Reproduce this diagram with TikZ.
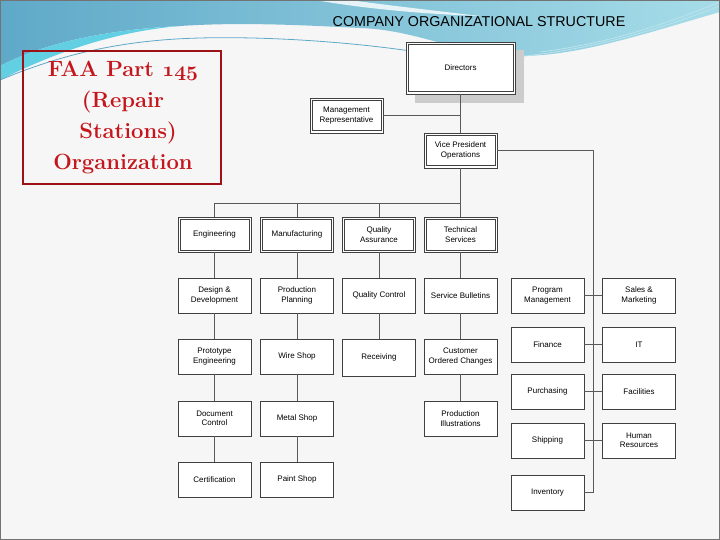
\documentclass[tikz,border=0pt]{standalone}
\usepackage{fontspec}
\newfontfamily\chartfont{Liberation Sans}
\definecolor{wavetop}{HTML}{5FA9C8}
\definecolor{waveright}{HTML}{A6DCE8}
\definecolor{wavecyan}{HTML}{62D0E2}
\definecolor{faared}{HTML}{C4161C}
\definecolor{slidebg}{HTML}{F6F6F6}
\newcommand{\oldnums}[1]{{\fontencoding{OML}\fontfamily{cmm}\fontseries{b}\fontshape{it}\selectfont #1}}

\begin{document}
\begin{tikzpicture}[x=1pt,y=-1pt,
    dept/.style={draw=black!75,line width=0.7pt,fill=white,
        minimum width=73pt,minimum height=35pt,inner sep=1pt,align=center,
        font=\chartfont\fontsize{8}{9.5}\selectfont,
        path picture={\draw[black!75,line width=0.6pt]
            ([shift={(2.2pt,-2.2pt)}]path picture bounding box.north west) rectangle
            ([shift={(-2.2pt,2.2pt)}]path picture bounding box.south east);}},
    unit/.style={draw=black!75,line width=0.7pt,fill=white,
        minimum width=73pt,minimum height=35pt,inner sep=1pt,align=center,
        font=\chartfont\fontsize{8}{9.5}\selectfont},
    link/.style={draw=black!65,line width=0.9pt}]
    \useasboundingbox (0,0) rectangle (720,540);
    % slide background
    \fill[slidebg] (0,0) rectangle (720,540);
    \shade[left color=wavetop,right color=waveright] (0,0) -- (720,0) -- (720,12)
        .. controls (650,32) and (580,56) .. (520,56)
        .. controls (460,56) and (420,30) .. (360,28)
        .. controls (300,25) and (240,22) .. (180,26)
        .. controls (100,30) and (40,45) .. (0,66) -- cycle;
    \fill[wavecyan] (0,66) .. controls (40,45) and (100,30) .. (180,26)
        .. controls (110,32) and (50,55) .. (0,80) -- cycle;
    \fill[white,opacity=0.8] (315,0) .. controls (360,8) and (420,14) .. (480,16)
        .. controls (420,9) and (370,3) .. (350,0) -- cycle;
    \draw[wavetop,line width=0.8pt] (0,80) .. controls (60,55) and (120,40) .. (200,38)
        .. controls (280,36) and (370,44) .. (430,54);
    \draw[waveright!80!white,line width=0.8pt] (505,58) .. controls (600,50) and (670,25) .. (720,6);
    \draw[waveright!70!white,line width=0.6pt] (540,52) .. controls (620,42) and (680,18) .. (720,2);
    \draw[black!55,line width=1pt] (0.5,0.5) rectangle (719.5,539.5);

    % title box
    \draw[faared!80!black,line width=1.2pt] (23,51) rectangle (221,184);
    \node[text=faared,font=\bfseries\fontsize{22}{31}\selectfont,align=center] (faa) at (123,118)
        {FAA\hspace{8pt}Part \oldnums{145}\\(Repair\\\hspace*{10pt}Stations)\\Organization};
    \node[font=\chartfont\fontsize{14.3}{16}\selectfont] (title) at (479,22) {COMPANY ORGANIZATIONAL STRUCTURE};

    % top of the chart
    \fill[black!20] (415,50) rectangle (524,103);
    \node[dept,minimum width=109pt,minimum height=52pt] (dir) at (460.5,68) {Directors};
    \node[dept] (mr) at (346.5,115.5) {Management\\Representative};
    \node[dept] (vp) at (460.5,150.5) {Vice President\\Operations};
    \coordinate (bus) at (460.5,203);
    \coordinate (spine) at (593,150.5);

    % departments
    \node[dept] (eng) at (214.5,234.5) {Engineering};
    \node[dept] (mfg) at (297,234.5) {Manufacturing};
    \node[dept] (qa) at (379,234.5) {Quality\\Assurance};
    \node[dept] (ts) at (460.5,234.5) {Technical\\Services};

    \node[unit] (dd) at (214.5,295.5) {Design \&\\Development};
    \node[unit] (pp) at (297,295.5) {Production\\Planning};
    \node[unit] (qc) at (379,295.5) {Quality Control};
    \node[unit] (sb) at (460.5,295.5) {Service Bulletins};

    \node[unit] (pe) at (214.5,356.5) {Prototype\\Engineering};
    \node[unit] (ws) at (297,356.5) {Wire Shop};
    \node[unit,minimum height=37pt] (rc) at (379,357.5) {Receiving};
    \node[unit] (coc) at (460.5,356.5) {Customer\\Ordered Changes};

    \node[unit] (dc) at (214.5,418.5) {Document\\Control};
    \node[unit] (ms) at (297,418.5) {Metal Shop};
    \node[unit] (pi) at (460.5,418.5) {Production\\Illustrations};

    \node[unit] (cert) at (214.5,479.5) {Certification};
    \node[unit] (ps) at (297,479.5) {Paint Shop};

    % support units
    \node[unit] (pm) at (547.5,295.5) {Program\\Management};
    \node[unit] (fin) at (547.5,344.5) {Finance};
    \node[unit] (pur) at (547.5,391.5) {Purchasing};
    \node[unit] (shp) at (547.5,440.5) {Shipping};
    \node[unit] (inv) at (547.5,492.5) {Inventory};
    \node[unit] (sm) at (639,295.5) {Sales \&\\Marketing};
    \node[unit] (it) at (639,344.5) {IT};
    \node[unit] (fac) at (639,391.5) {Facilities};
    \node[unit] (hr) at (639,440.5) {Human\\Resources};

    % connectors
    \draw[link] (dir) -- (vp);
    \draw[link] (mr.east) -- (mr.east -| dir.south);
    \draw[link] (vp) -- (ts);
    \draw[link] (eng.north) |- (bus);
    \draw[link] (mfg.north) -- (mfg.north |- bus);
    \draw[link] (qa.north) -- (qa.north |- bus);
    \draw[link] (vp.east) -- (spine) |- (inv.east);

    \draw[link] (eng) -- (dd);
    \draw[link] (dd) -- (pe);
    \draw[link] (pe) -- (dc);
    \draw[link] (dc) -- (cert);
    \draw[link] (mfg) -- (pp);
    \draw[link] (pp) -- (ws);
    \draw[link] (ws) -- (ms);
    \draw[link] (ms) -- (ps);
    \draw[link] (qa) -- (qc);
    \draw[link] (qc) -- (rc);
    \draw[link] (ts) -- (sb);
    \draw[link] (sb) -- (coc);
    \draw[link] (coc) -- (pi);

    \draw[link] (pm) -- (sm);
    \draw[link] (fin) -- (it);
    \draw[link] (pur) -- (fac);
    \draw[link] (shp) -- (hr);
\end{tikzpicture}
\end{document}
